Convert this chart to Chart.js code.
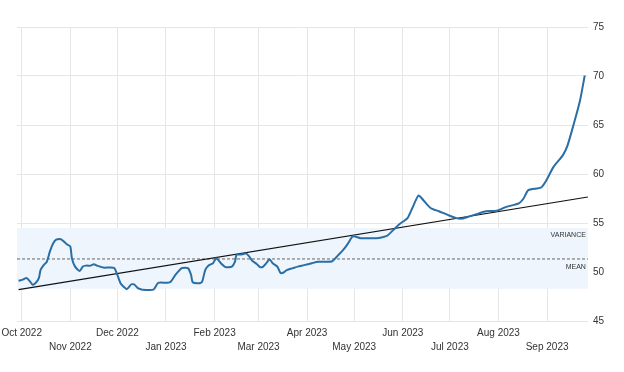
<!DOCTYPE html>
<html>
<head>
<meta charset="utf-8">
<script src="https://cdn.jsdelivr.net/npm/chart.js@4/dist/chart.umd.min.js"></script>
<style>
  body { margin: 0; background: #fff; }
  #wrap { width: 624px; height: 372px; }
</style>
</head>
<body>
<div id="wrap"><canvas id="myChart" width="624" height="372"></canvas></div>
<script>
// series
let dates = [
  '2022-09-29', '2022-10-02', '2022-10-04', '2022-10-06', '2022-10-08', '2022-10-10', '2022-10-12',
  '2022-10-13', '2022-10-15', '2022-10-17', '2022-10-19', '2022-10-21', '2022-10-23', '2022-10-26',
  '2022-10-28', '2022-10-30', '2022-11-01', '2022-11-02', '2022-11-04', '2022-11-07', '2022-11-09',
  '2022-11-11', '2022-11-14', '2022-11-16', '2022-11-18', '2022-11-20', '2022-11-22', '2022-11-26',
  '2022-11-29', '2022-12-01', '2022-12-03', '2022-12-05', '2022-12-07', '2022-12-10', '2022-12-12',
  '2022-12-14', '2022-12-17', '2022-12-24', '2022-12-27', '2023-01-02', '2023-01-04', '2023-01-07',
  '2023-01-11', '2023-01-15', '2023-01-17', '2023-01-18', '2023-01-22', '2023-01-24', '2023-01-26',
  '2023-01-28', '2023-01-31', '2023-02-02', '2023-02-05', '2023-02-08', '2023-02-12', '2023-02-14',
  '2023-02-15', '2023-02-19', '2023-02-21', '2023-02-23', '2023-02-25', '2023-02-28', '2023-03-02',
  '2023-03-04', '2023-03-06', '2023-03-08', '2023-03-10', '2023-03-13', '2023-03-15', '2023-03-17',
  '2023-03-19', '2023-03-23', '2023-03-26', '2023-03-30', '2023-04-04', '2023-04-08', '2023-04-11',
  '2023-04-17', '2023-04-21', '2023-04-24', '2023-04-27', '2023-04-30', '2023-05-02', '2023-05-05',
  '2023-05-10', '2023-05-15', '2023-05-19', '2023-05-22', '2023-05-26', '2023-05-30', '2023-06-04',
  '2023-06-07', '2023-06-11', '2023-06-14', '2023-06-17', '2023-06-19', '2023-06-24', '2023-06-30',
  '2023-07-05', '2023-07-09', '2023-07-14', '2023-07-19', '2023-07-24', '2023-07-31', '2023-08-06',
  '2023-08-14', '2023-08-17', '2023-08-20', '2023-08-28', '2023-08-31', '2023-09-05', '2023-09-11',
  '2023-09-14', '2023-09-18', '2023-09-22', '2023-09-25'
];
let valores = [
  49.1, 49.25, 49.4, 49.1, 48.7, 48.9, 49.4,
  50.2, 50.7, 51.05, 52.1, 52.9, 53.3, 53.35,
  53.1, 52.8, 52.6, 51.4, 50.55, 50.1, 50.55,
  50.65, 50.65, 50.8, 50.65, 50.55, 50.45, 50.45,
  50.4, 49.7, 48.85, 48.5, 48.25, 48.75, 48.7,
  48.35, 48.2, 48.2, 48.9, 48.9, 49.0, 49.7,
  50.4, 50.4, 49.7, 48.95, 48.85, 49.0, 50.2,
  50.65, 50.9, 51.4, 50.9, 50.5, 50.55, 51.05,
  51.75, 51.8, 51.9, 51.6, 51.15, 50.8, 50.5,
  50.55, 50.9, 51.3, 50.9, 50.55, 49.9, 49.95,
  50.2, 50.4, 50.55, 50.7, 50.9, 51.05, 51.05,
  51.1, 51.75, 52.25, 52.9, 53.65, 53.6, 53.45,
  53.45, 53.45, 53.55, 53.7, 54.3, 54.9, 55.5,
  56.5, 57.8, 57.35, 56.8, 56.5, 56.2, 55.8,
  55.5, 55.45, 55.7, 55.95, 56.2, 56.25, 56.65,
  57.0, 57.5, 58.35, 58.6, 59.2, 60.7, 61.9,
  62.9, 65.1, 67.5, 70.05
];

// month ticks along the bottom
let meses = ['2022-10-01', '2022-11-01', '2022-12-01', '2023-01-01', '2023-02-01', '2023-03-01',
  '2023-04-01', '2023-05-01', '2023-06-01', '2023-07-01', '2023-08-01', '2023-09-01'];
let rotulos = ['Oct 2022', 'Nov 2022', 'Dec 2022', 'Jan 2023', 'Feb 2023', 'Mar 2023',
  'Apr 2023', 'May 2023', 'Jun 2023', 'Jul 2023', 'Aug 2023', 'Sep 2023'];

// mean, variance band and trend
let media = 51.33;
let variancia = [48.3, 54.5];
let tendenciaDatas = ['2022-09-29', '2023-09-27'];
let tendenciaValores = [48.2, 57.65];

let inicio = Date.parse('2022-09-28');
let fim = Date.parse('2023-09-27');
let tMeses = meses.map(d => Date.parse(d));

let pontos = dates.map((d, i) => ({ x: Date.parse(d), y: valores[i] }));
let tendencia = tendenciaDatas.map((d, i) => ({ x: Date.parse(d), y: tendenciaValores[i] }));

let fonte = 'Liberation Sans, Arial, sans-serif';

let textoFaixa = {
  id: 'textoFaixa',
  afterDatasetsDraw(chart) {
    let c = chart.ctx;
    let ys = chart.scales.y;
    let xr = chart.chartArea.right - 2;
    c.save();
    c.font = '7px ' + fonte;
    c.fillStyle = '#333';
    c.textAlign = 'right';
    c.textBaseline = 'middle';
    c.fillText('VARIANCE', xr, ys.getPixelForValue(variancia[1]) + 7);
    c.fillText('MEAN', xr, ys.getPixelForValue(media) + 8);
    c.restore();
  }
};

let ctx = document.getElementById('myChart').getContext('2d');

let myChart = new Chart(ctx, {
  type: 'line',
  data: {
    datasets: [
      {
        data: pontos,
        borderColor: '#2a6ea6',
        borderWidth: 2,
        pointRadius: 0,
        tension: 0.2,
        fill: false,
        order: 1
      },
      {
        data: tendencia,
        borderColor: '#111',
        borderWidth: 1.2,
        pointRadius: 0,
        fill: false,
        order: 2
      },
      {
        data: [{ x: inicio, y: media }, { x: fim, y: media }],
        borderColor: '#666',
        borderWidth: 1,
        borderDash: [3, 2],
        pointRadius: 0,
        fill: false,
        order: 3
      },
      {
        data: [{ x: inicio, y: variancia[1] }, { x: fim, y: variancia[1] }],
        borderWidth: 0,
        borderColor: 'rgba(0,0,0,0)',
        backgroundColor: '#eef5fc',
        pointRadius: 0,
        fill: { value: variancia[0] },
        order: 4
      }
    ]
  },
  plugins: [textoFaixa],
  options: {
    responsive: false,
    animation: false,
    layout: { padding: { top: 27, right: 15, left: 17, bottom: 13 } },
    plugins: {
      legend: { display: false },
      tooltip: { enabled: false }
    },
    scales: {
      x: {
        type: 'linear',
        min: inicio,
        max: fim,
        afterBuildTicks: (axis) => {
          axis.ticks = tMeses.map(v => ({ value: v }));
        },
        afterFit: (axis) => {
          axis.paddingLeft = 0;
          axis.paddingRight = 0;
        },
        grid: { color: '#e6e6e6', drawTicks: false },
        border: { display: false },
        ticks: {
          autoSkip: false,
          maxRotation: 0,
          padding: 5,
          color: '#333',
          font: { family: fonte, size: 10, lineHeight: 1.4 },
          callback: (value) => {
            let i = tMeses.indexOf(value);
            if (i < 0) return '';
            return i % 2 === 0 ? [rotulos[i]] : ['', rotulos[i]];
          }
        }
      },
      y: {
        position: 'right',
        min: 45,
        max: 75,
        grid: { color: '#e6e6e6', drawTicks: false },
        border: { display: false },
        ticks: {
          stepSize: 5,
          padding: 5,
          color: '#333',
          font: { family: fonte, size: 10 }
        }
      }
    }
  }
});
</script>
</body>
</html>
